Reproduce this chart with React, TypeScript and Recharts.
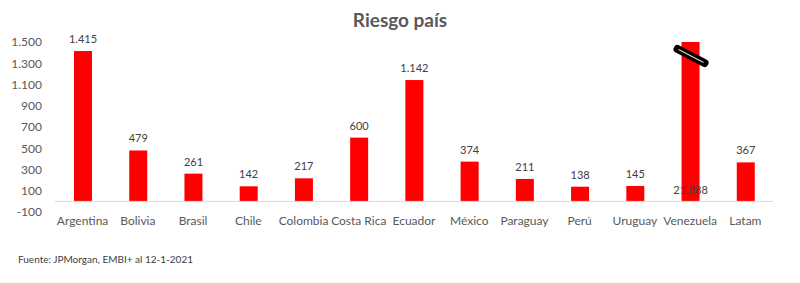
import React from 'react';
import { BarChart, Bar, XAxis, YAxis, ReferenceLine, LabelList } from 'recharts';

const COUNTRIES = ['Argentina', 'Bolivia', 'Brasil', 'Chile', 'Colombia', 'Costa Rica', 'Ecuador', 'México', 'Paraguay', 'Perú', 'Uruguay', 'Venezuela', 'Latam'];
const SPREADS = [1415, 479, 261, 142, 217, 600, 1142, 374, 211, 138, 145, 21888, 367];
const Y_TICKS = [-100, 100, 300, 500, 700, 900, 1100, 1300, 1500];
const Y_MIN = -100;
const Y_MAX = 1500;

const RED = '#ff0000';
const GREY = '#595959';
const FONT = 'Lato, "Open Sans", sans-serif';

// formato es: separador de miles con punto
const fmt = (n: number) => String(n).replace(/\B(?=(\d{3})+(?!\d))/g, '.');

const data = COUNTRIES.map((name, i) => ({
  name,
  value: SPREADS[i],
  shown: Math.min(SPREADS[i], Y_MAX),
}));

// barra con marca de corte cuando el valor excede el eje
const BarShape = (props: any) => {
  const { x, y, width, height, payload } = props;
  const cut = payload.value > Y_MAX;
  const cx = x + width / 2;
  return (
    <g>
      <rect x={x} y={y} width={width} height={height} fill={RED} />
      {cut && (
        <g>
          <line x1={cx - 13} y1={y + 7} x2={cx + 14} y2={y + 21} stroke="#000" strokeWidth={8} strokeLinecap="round" />
          <line x1={cx - 12} y1={y + 7.5} x2={cx + 13} y2={y + 20.5} stroke="#f2c4c4" strokeWidth={1.2} />
        </g>
      )}
    </g>
  );
};

const ValueLabel = (props: any) => {
  const { x, y, width, height, index } = props;
  const v = SPREADS[index];
  const cut = v > Y_MAX;
  const ty = cut ? y + height - 7 : y - 8;
  return (
    <text x={x + width / 2} y={ty} textAnchor="middle" fontSize={11} fill="#404040" fontFamily={FONT}>
      {fmt(v)}
    </text>
  );
};

export default function App() {
  return (
    <div style={{ position: 'absolute', left: 0, top: 0, width: 800, height: 283, background: '#fff', fontFamily: FONT }}>
      <div style={{ position: 'absolute', left: 0, width: 800, top: 8, textAlign: 'center', fontSize: 19, fontWeight: 700, color: GREY }}>
        Riesgo país
      </div>
      <BarChart
        width={800}
        height={283}
        data={data}
        margin={{ top: 42, right: 27, bottom: 41, left: 0 }}
        barCategoryGap={0}
      >
        <XAxis
          dataKey="name"
          height={30}
          axisLine={false}
          tickLine={false}
          tickSize={0}
          tickMargin={4}
          interval={0}
          tick={{ fontSize: 12, fill: GREY, fontFamily: FONT }}
        />
        <YAxis
          width={55}
          domain={[Y_MIN, Y_MAX]}
          ticks={Y_TICKS}
          interval={0}
          allowDataOverflow
          axisLine={false}
          tickLine={false}
          tickSize={0}
          tickMargin={13}
          tickFormatter={fmt}
          tick={{ fontSize: 12, fill: GREY, fontFamily: FONT }}
        />
        <ReferenceLine y={0} stroke="#d9d9d9" strokeWidth={1} />
        <Bar dataKey="shown" barSize={18} isAnimationActive={false} shape={<BarShape />}>
          <LabelList dataKey="shown" content={<ValueLabel />} />
        </Bar>
      </BarChart>
      <div style={{ position: 'absolute', left: 18, top: 253, fontSize: 10, color: '#404040' }}>
        Fuente: JPMorgan, EMBI+ al 12-1-2021
      </div>
    </div>
  );
}
